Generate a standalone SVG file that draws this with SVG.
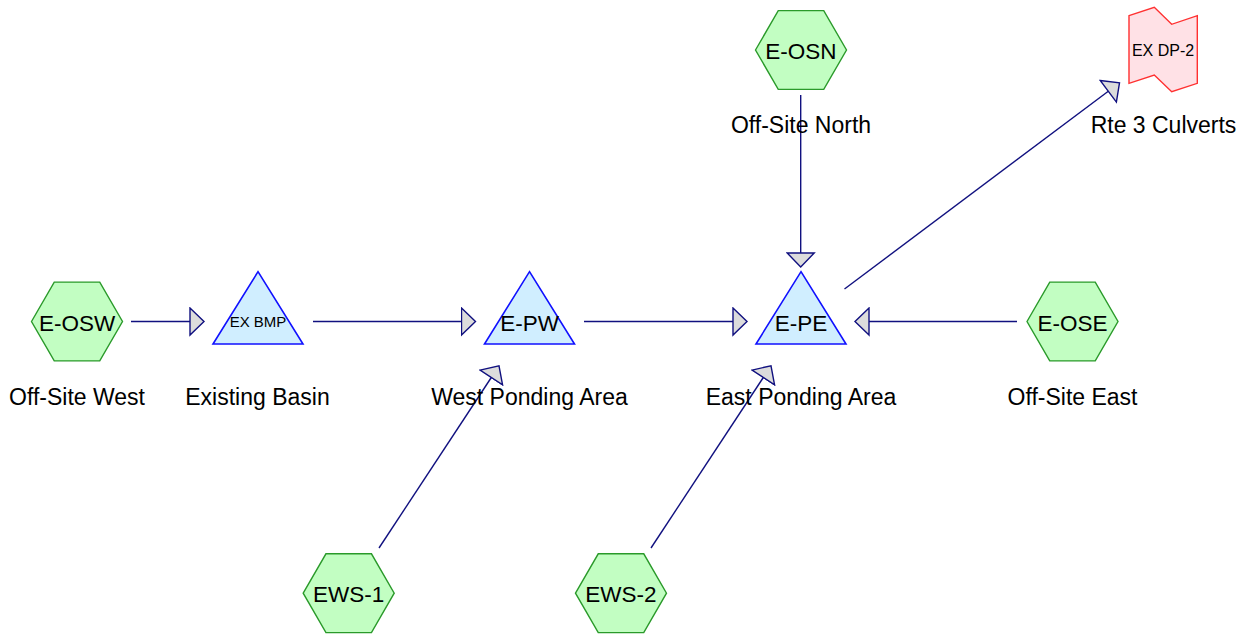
<svg xmlns="http://www.w3.org/2000/svg" width="1247" height="635" viewBox="0 0 1247 635">
  <style>
    .sub { fill: #c2fec2; stroke: #2a9a2a; stroke-width: 1.4; }
    .pond { fill: #d0eeff; stroke: #1010ff; stroke-width: 1.6; }
    .link { fill: #ffe1e6; stroke: #ff3030; stroke-width: 1.4; }
    .name { font-family: "Liberation Sans", Arial, sans-serif; font-size: 22.5px; fill: #000; text-anchor: middle; }
    .small { font-size: 15px; }
    .mid { font-size: 16px; }
    .label { font-family: "Liberation Sans", Arial, sans-serif; font-size: 23px; fill: #000; text-anchor: middle; }
    .conn { stroke: #10107f; stroke-width: 1.4; fill: none; marker-end: url(#head); }
  </style>
  <defs>
    <marker id="head" viewBox="-1 -15 17 30" refX="0" refY="0" markerWidth="17" markerHeight="30" markerUnits="userSpaceOnUse" orient="auto">
      <path d="M0,-13.5 L14,0 L0,13.5 Z" fill="#dcdcdc" stroke="#10107f" stroke-width="1.4" stroke-linejoin="miter"/>
    </marker>
    <polygon id="hex" points="-45.5,0 -22.75,-39.4 22.75,-39.4 45.5,0 22.75,39.4 -22.75,39.4"/>
    <polygon id="tri" points="0,-49.8 45,22.5 -45,22.5"/>
  </defs>

  <!-- connectors -->
  <g id="connectors">
    <line class="conn" x1="131" y1="321.5" x2="190" y2="321.5"/>
    <line class="conn" x1="313" y1="321.5" x2="461.5" y2="321.5"/>
    <line class="conn" x1="584" y1="321.5" x2="733" y2="321.5"/>
    <line class="conn" x1="1017" y1="321.5" x2="869" y2="321.5"/>
    <line class="conn" x1="800.7" y1="95" x2="800.7" y2="253"/>
    <line class="conn" x1="844.5" y1="289" x2="1108.3" y2="91.3"/>
    <line class="conn" x1="379" y1="548" x2="491.3" y2="377.5"/>
    <line class="conn" x1="651" y1="548" x2="763.3" y2="377.5"/>
  </g>

  <!-- subcatchments -->
  <g id="E-OSW">
    <use href="#hex" class="sub" transform="translate(77,321.5)"/>
    <text class="name" x="77" y="330.5">E-OSW</text>
    <text class="label" x="77" y="405">Off-Site West</text>
  </g>
  <g id="E-OSN">
    <use href="#hex" class="sub" transform="translate(801,50)"/>
    <text class="name" x="801" y="59">E-OSN</text>
    <text class="label" x="801" y="133">Off-Site North</text>
  </g>
  <g id="E-OSE">
    <use href="#hex" class="sub" transform="translate(1072.5,321.5)"/>
    <text class="name" x="1072.5" y="330.5">E-OSE</text>
    <text class="label" x="1072.5" y="405">Off-Site East</text>
  </g>
  <g id="EWS-1">
    <use href="#hex" class="sub" transform="translate(348.7,593.2)"/>
    <text class="name" x="348.7" y="601.5">EWS-1</text>
  </g>
  <g id="EWS-2">
    <use href="#hex" class="sub" transform="translate(621,593.2)"/>
    <text class="name" x="621" y="601.5">EWS-2</text>
  </g>

  <!-- ponds -->
  <g id="EX-BMP">
    <use href="#tri" class="pond" transform="translate(258,321.5)"/>
    <text class="name small" x="258" y="327">EX BMP</text>
    <text class="label" x="257.5" y="405">Existing Basin</text>
  </g>
  <g id="E-PW">
    <use href="#tri" class="pond" transform="translate(529.5,321.5)"/>
    <text class="name" x="529.5" y="330.5">E-PW</text>
    <text class="label" x="529.5" y="405">West Ponding Area</text>
  </g>
  <g id="E-PE">
    <use href="#tri" class="pond" transform="translate(801,321.5)"/>
    <text class="name" x="801" y="330.5">E-PE</text>
    <text class="label" x="801" y="405">East Ponding Area</text>
  </g>

  <!-- design point -->
  <g id="EX-DP-2">
    <polygon class="link" points="1129,15.7 1154.3,7.3 1171.7,24.3 1197.3,15.7 1197.3,83.3 1171.7,91.7 1154.3,75 1129,83.3"/>
    <text class="name mid" x="1163" y="56">EX DP-2</text>
    <text class="label" x="1163.5" y="133">Rte 3 Culverts</text>
  </g>
</svg>
